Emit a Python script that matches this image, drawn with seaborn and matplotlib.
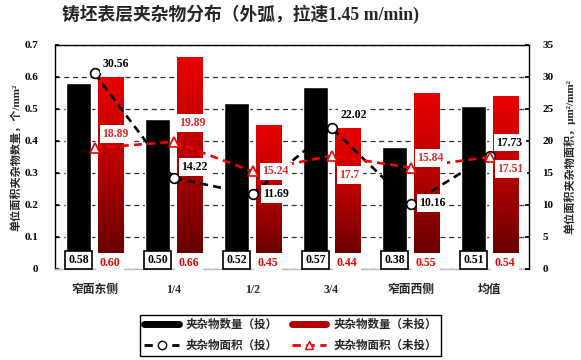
import numpy as np
import pandas as pd
import matplotlib
matplotlib.use("Agg")
import matplotlib.pyplot as plt
import seaborn as sns
from matplotlib.colors import LinearSegmentedColormap
from matplotlib.lines import Line2D

# ---------------- data ----------------
categories = ["窄面东侧", "1/4", "1/2", "3/4", "窄面西侧", "均值"]
count_tou = [0.58, 0.47, 0.52, 0.57, 0.38, 0.51]          # bar heights (投)
count_tou_labels = ["0.58", "0.50", "0.52", "0.57", "0.38", "0.51"]
count_weitou = [0.60, 0.66, 0.45, 0.44, 0.55, 0.54]       # bar heights (未投)
area_tou = [30.56, 14.22, 11.69, 22.02, 10.16, 17.73]
area_weitou = [18.89, 19.89, 15.24, 17.7, 15.84, 17.51]
left_ticks = [0, 0.1, 0.2, 0.3, 0.4, 0.5, 0.6, 0.7]
left_tick_labels = ["0", "0.1", "0.2", "0.3", "0.4", "0.5", "0.6", "0.7"]
right_ticks = [0, 5, 10, 15, 20, 25, 30, 35]
legend_labels = ["夹杂物数量（投）", "夹杂物面积（投）", "夹杂物数量（未投）", "夹杂物面积（未投）"]

# label offsets (pixels) relative to markers
tou_offsets = [(8, 9), (8, 11), (11, 0), (9, 13), (9, 1), (7, 13)]
weitou_offsets = [(8, 14), (6, 19), (10, 0), (8, -19), (7, 10), (8, -12)]

sns.set_theme(style="white")
plt.rcParams["font.family"] = ["Liberation Serif", "Noto Sans CJK SC", "DejaVu Sans"]
plt.rcParams["font.weight"] = "bold"
plt.rcParams["axes.unicode_minus"] = False

fig = plt.figure(figsize=(5.81, 3.6), dpi=100)
ax = fig.add_axes([55 / 581, 1 - 269 / 360, 474 / 581, 224 / 360])

df = pd.DataFrame({
    "cat": categories * 2,
    "val": count_tou + count_weitou,
    "grp": ["投"] * len(categories) + ["未投"] * len(categories),
})
sns.barplot(data=df, x="cat", y="val", hue="grp", hue_order=["投", "未投"],
            palette={"投": "black", "未投": "#cc0000"}, width=0.8, gap=0.2,
            dodge=True, legend=False, ax=ax, saturation=1, zorder=2)

cmap = LinearSegmentedColormap.from_list(
    "redgrad", [(0, "#5a0000"), (0.55, "#b80000"), (1, "#e80000")])
grad = np.linspace(0, 1, 256).reshape(-1, 1)
for p in list(ax.patches):
    fc = p.get_facecolor()
    if fc[0] > 0.5:
        x0, w, h = p.get_x(), p.get_width(), p.get_height()
        ax.imshow(grad, extent=[x0, x0 + w, 0, h], origin="lower", aspect="auto",
                  cmap=cmap, zorder=2, interpolation="bilinear")
        p.set_visible(False)

ax.set_xlim(-0.5, len(categories) - 0.5)
ax.set_ylim(0, 0.7)
ax.set_yticks(left_ticks)
ax.set_yticklabels(left_tick_labels)
ax.set_xlabel("")
ax.set_ylabel("单位面积夹杂物数量，个/mm²", fontsize=8, fontweight="bold")
ax.yaxis.set_label_coords(-0.072, 0.5)
ax.set_axisbelow(True)
ax.yaxis.grid(True, color="#333333", linestyle=(0, (4, 3)), linewidth=0.9)
ax.xaxis.grid(False)
ax.tick_params(axis="y", direction="in", length=3, labelsize=8, pad=12, colors="black")
ax.tick_params(axis="x", length=0, labelsize=8.5, pad=11)
for s in ["top", "left"]:
    ax.spines[s].set_color("black")
    ax.spines[s].set_linewidth(1.0)
ax.spines["right"].set_visible(False)
ax.spines["bottom"].set_color("#bbbbbb")
ax.spines["bottom"].set_linewidth(1.0)

for i, t in enumerate(count_tou_labels):
    ax.text(i - 0.2, 0.027, t, ha="center", va="center", fontsize=8.5,
            fontweight="bold", zorder=6, color="black",
            bbox=dict(boxstyle="square,pad=0.25", fc="white", ec="black", lw=1.2))
for i, v in enumerate(count_weitou):
    ax.text(i + 0.2, 0.02, f"{v:.2f}", ha="center", va="center", fontsize=8.5,
            fontweight="bold", zorder=6, color="#ee0000",
            bbox=dict(boxstyle="square,pad=0.3", fc="white", ec="none"))

# ---------------- lines ----------------
ax2 = ax.twinx()
xpos = np.arange(len(categories))
sns.lineplot(x=xpos, y=area_tou, ax=ax2, color="black", linewidth=1.9,
             linestyle=(0, (3, 2)), marker="o", markersize=7,
             markerfacecolor="white", markeredgecolor="black", markeredgewidth=1.2,
             zorder=3)
sns.lineplot(x=xpos, y=area_weitou, ax=ax2, color="#ee0000", linewidth=1.9,
             linestyle=(0, (3, 2)), marker="^", markersize=7,
             markerfacecolor="white", markeredgecolor="#ee0000", markeredgewidth=1.2,
             zorder=3)
ax2.set_ylim(0, 35)
ax2.set_xlim(-0.5, len(categories) - 0.5)
ax2.set_yticks(right_ticks)
ax2.set_yticklabels([str(t) for t in right_ticks])
ax2.tick_params(axis="y", direction="in", length=3, labelsize=8, pad=9.5, colors="black")
ax2.set_ylabel("单位面积夹杂物面积，μm²/mm²", fontsize=8, fontweight="bold", rotation=90)
ax2.yaxis.set_label_coords(1.074, 0.5)
ax2.grid(False)
for s in ["top", "left", "bottom"]:
    ax2.spines[s].set_visible(False)
ax2.spines["right"].set_color("black")
ax2.spines["right"].set_linewidth(1.0)

for i, (v, (dx, dy)) in enumerate(zip(area_tou, tou_offsets)):
    ax2.annotate(f"{v:g}", (i, v), xytext=(dx * 0.72, dy * 0.72), textcoords="offset points",
                 ha="left", va="center", fontsize=8.5, fontweight="bold", color="black",
                 bbox=dict(boxstyle="square,pad=0.25", fc="white", ec="none"), zorder=5)
for i, (v, (dx, dy)) in enumerate(zip(area_weitou, weitou_offsets)):
    ax2.annotate(f"{v:g}", (i, v), xytext=(dx * 0.72, dy * 0.72), textcoords="offset points",
                 ha="left", va="center", fontsize=8.5, fontweight="bold", color="#dd2a2a",
                 bbox=dict(boxstyle="square,pad=0.25", fc="white", ec="none"), zorder=5)

# ---------------- title & legend ----------------
fig.text(0.414, 0.962, "铸坯表层夹杂物分布（外弧，拉速1.45 m/min)", ha="center", va="center",
         fontsize=12.8, fontweight="bold")

handles = [
    Line2D([], [], color="black", lw=5),
    Line2D([], [], color="black", lw=2, ls=(0, (3, 2)), marker="o", mfc="white", mec="black", ms=6),
    Line2D([], [], color="#b00000", lw=5),
    Line2D([], [], color="#ee0000", lw=2, ls=(0, (3, 2)), marker="^", mfc="white", mec="#ee0000", ms=6),
]
leg = fig.legend(handles, legend_labels, ncol=2, loc="center", bbox_to_anchor=(0.5, 0.068),
                 frameon=True, fancybox=False, edgecolor="black", fontsize=8.3,
                 handlelength=3.0, columnspacing=1.2, labelspacing=0.75, borderpad=0.35,
                 handletextpad=0.6, framealpha=1)
leg.get_frame().set_linewidth(1.0)

fig.savefig("out.png", dpi=100)
